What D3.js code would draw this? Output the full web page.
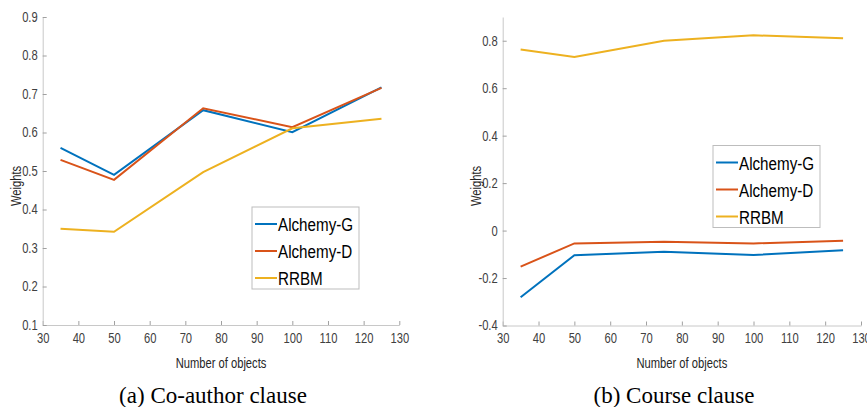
<!DOCTYPE html>
<html>
<head>
<meta charset="utf-8">
<script src="https://cdn.jsdelivr.net/npm/d3@7"></script>
<style>
  body { margin: 0; background: #fff; }
  svg { display: block; }
</style>
</head>
<body>
<svg id="fig" width="867" height="407"></svg>
<script>
// values
const objects = [35, 50, 75, 100, 125];
const seriesNames = ["Alchemy-G", "Alchemy-D", "RRBM"];
const seriesColors = ["#0072BD", "#D95319", "#EDB120"];

const coauthorG = [0.560, 0.490, 0.658, 0.601, 0.717];
const coauthorD = [0.529, 0.477, 0.663, 0.614, 0.716];
const coauthorRRBM = [0.350, 0.342, 0.497, 0.611, 0.636];

const courseG = [-0.281, -0.104, -0.089, -0.103, -0.083];
const courseD = [-0.152, -0.054, -0.047, -0.054, -0.043];
const courseRRBM = [0.763, 0.731, 0.800, 0.823, 0.810];

const xTicks = [30, 40, 50, 60, 70, 80, 90, 100, 110, 120, 130];
const yTicksA = [0.1, 0.2, 0.3, 0.4, 0.5, 0.6, 0.7, 0.8, 0.9];
const yTicksB = [-0.4, -0.2, 0, 0.2, 0.4, 0.6, 0.8];

const sans = "'Liberation Sans', Arial, sans-serif";
const squeeze = 0.8; // the figure's sans text is horizontally condensed

// put a condensed text at (x,y)
function narrowText(parent, x, y, str, size, anchor, rot)
{
    return parent.append("text")
        .attr("transform", "translate(" + x + "," + y + ")" + (rot ? " rotate(" + rot + ")" : "") + " scale(" + squeeze + ",1)")
        .attr("text-anchor", anchor || "start")
        .style("font-family", sans)
        .style("font-size", size + "px")
        .text(str);
}

function drawPanel(svg, o)
{
    let xScale = d3.scaleLinear().domain([30, 130]).range([o.left, o.right]);
    let yScale = d3.scaleLinear().domain(o.yDomain).range([o.bottom, o.top]);
    let fmt = d => d === 0 ? "0" : d.toFixed(1);

    // x axis, ticks point inward
    let gx = svg.append("g")
        .attr("transform", "translate(0," + o.bottom + ")")
        .call(d3.axisTop(xScale).tickValues(xTicks).tickSize(4).tickSizeOuter(0).tickFormat(d3.format("d")));
    gx.selectAll("text")
        .attr("y", 18)
        .attr("dy", 0)
        .attr("transform", "scale(" + squeeze + ",1)")
        .style("font-family", sans)
        .style("font-size", "14px")
        .attr("fill", "#404040");

    // y axis
    let gy = svg.append("g")
        .attr("transform", "translate(" + o.left + ",0)")
        .call(d3.axisRight(yScale).tickValues(o.yTicks).tickSize(4).tickSizeOuter(0).tickFormat(fmt));
    gy.selectAll("text")
        .attr("x", -5 / squeeze)
        .attr("text-anchor", "end")
        .attr("transform", "scale(" + squeeze + ",1)")
        .style("font-family", sans)
        .style("font-size", "14px")
        .attr("fill", "#404040");

    svg.selectAll(".domain").attr("stroke", "#c8c8c8");
    svg.selectAll(".tick line").attr("stroke", "#a0a0a0");

    // lines
    let line = d3.line()
        .x((d, i) => xScale(objects[i]))
        .y(d => yScale(d));
    o.series.forEach(function(s, k) {
        svg.append("path")
            .datum(s)
            .attr("fill", "none")
            .attr("stroke", seriesColors[k])
            .attr("stroke-width", 2)
            .attr("d", line);
    });

    // axis titles
    narrowText(svg, (o.left + o.right) / 2, 368, "Number of objects", 14, "middle")
        .attr("fill", "#262626");
    narrowText(svg, o.left - 22, 186, "Weights", 14, "middle", -90)
        .attr("fill", "#262626");

    // legend
    let lg = svg.append("g").attr("transform", "translate(" + o.legendX + "," + o.legendY + ")");
    lg.append("rect")
        .attr("width", 107)
        .attr("height", 82)
        .attr("fill", "#fff")
        .attr("stroke", "#bdbdbd");
    seriesNames.forEach(function(name, k) {
        let yy = 17 + k * 27;
        lg.append("line")
            .attr("x1", 3).attr("x2", 25)
            .attr("y1", yy).attr("y2", yy)
            .attr("stroke", seriesColors[k])
            .attr("stroke-width", 2);
        narrowText(lg, 26, yy + 7, name, 19).attr("fill", "#000");
    });

    // caption
    svg.append("text")
        .attr("x", o.captionX)
        .attr("y", 403)
        .attr("text-anchor", "middle")
        .style("font-family", "'Liberation Serif', 'Times New Roman', serif")
        .style("font-size", "23px")
        .attr("fill", "#000")
        .text(o.caption);
}

let svg = d3.select("#fig");

drawPanel(svg, {
    left: 42.7, right: 399.3, top: 17, bottom: 325,
    yDomain: [0.1, 0.9], yTicks: yTicksA,
    series: [coauthorG, coauthorD, coauthorRRBM],
    legendX: 252, legendY: 207,
    caption: "(a) Co-author clause", captionX: 213
});

drawPanel(svg, {
    left: 502.7, right: 861, top: 17, bottom: 325.5,
    yDomain: [-0.4, 0.9], yTicks: yTicksB,
    series: [courseG, courseD, courseRRBM],
    legendX: 713, legendY: 145.5,
    caption: "(b) Course clause", captionX: 674
});
</script>
</body>
</html>
